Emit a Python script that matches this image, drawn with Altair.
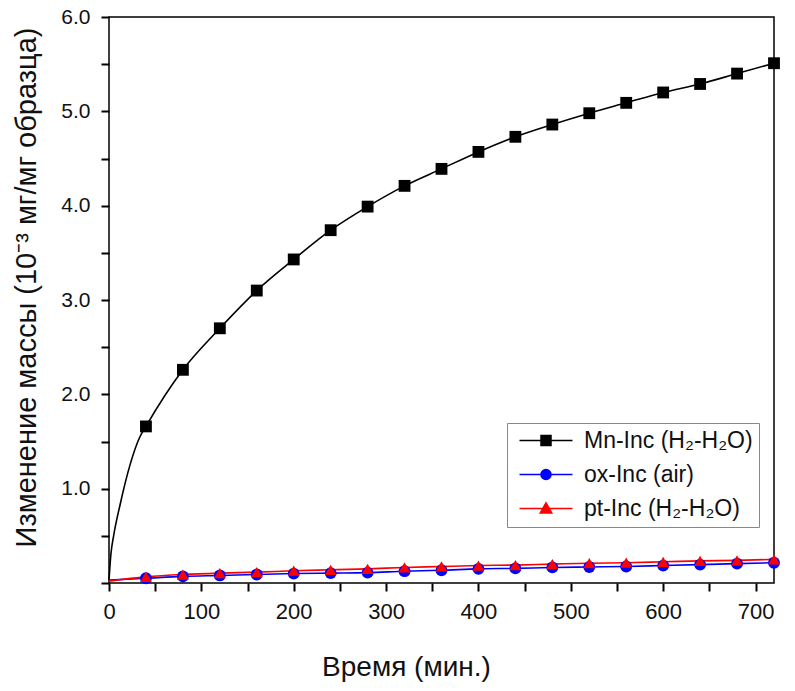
import altair as alt
import pandas as pd

series_names = ["Mn-Inc (H₂-H₂O)", "ox-Inc (air)", "pt-Inc (H₂-H₂O)"]
colors = ["#000000", "#0000FF", "#FF0000"]
std_shapes = ["square", "circle", "triangle-up"]

marker_t = [40, 80, 120, 160, 200, 240, 280, 320, 360, 400, 440, 480, 520, 560, 600, 640, 680, 720]
mn_marker = [1.66, 2.26, 2.70, 3.10, 3.43, 3.74, 3.99, 4.21, 4.39, 4.57, 4.73, 4.86, 4.98, 5.09, 5.20, 5.29, 5.40, 5.51]
ox_marker = [0.05, 0.07, 0.08, 0.09, 0.10, 0.105, 0.11, 0.125, 0.135, 0.15, 0.155, 0.165, 0.17, 0.175, 0.185, 0.195, 0.205, 0.215]
pt_marker = [0.065, 0.09, 0.105, 0.115, 0.13, 0.14, 0.15, 0.165, 0.175, 0.185, 0.19, 0.20, 0.21, 0.215, 0.225, 0.235, 0.24, 0.25]

mn_line_t = [0, 2, 5, 12, 23, 33] + marker_t
mn_line_v = [0.03, 0.30, 0.50, 0.83, 1.26, 1.54] + mn_marker
ox_line_t = [0] + marker_t
ox_line_v = [0.03] + ox_marker
pt_line_t = [0] + marker_t
pt_line_v = [0.02] + pt_marker

# major + minor tick positions (minor ones get no label)
x_ticks = [0, 50, 100, 150, 200, 250, 300, 350, 400, 450, 500, 550, 600, 650, 700]
y_ticks = [0, 0.5, 1, 1.5, 2, 2.5, 3, 3.5, 4, 4.5, 5, 5.5, 6]

# legend symbols: line segment + marker (unit coordinates)
legend_paths = [
    "M-1,0L9.6,0M3.3,-1L5.3,-1L5.3,1L3.3,1Z",
    "M-1,0L9.6,0M3.3,0A1,1 0 1,1 5.3,0A1,1 0 1,1 3.3,0Z",
    "M-1,0L9.6,0M4.3,-1.15L5.45,0.9L3.15,0.9Z",
]

rows = []
for name, ts, vs in [(series_names[0], mn_line_t, mn_line_v),
                     (series_names[1], ox_line_t, ox_line_v),
                     (series_names[2], pt_line_t, pt_line_v)]:
    for i, (t, v) in enumerate(zip(ts, vs)):
        rows.append({"series": name, "t": t, "v": v, "order": i})
lines_df = pd.DataFrame(rows)

rows = []
for k, (name, vs) in enumerate([(series_names[0], mn_marker),
                                (series_names[1], ox_marker),
                                (series_names[2], pt_marker)]):
    for t, v in zip(marker_t, vs):
        rows.append({"series": name, "t": t, "v": v, "k": k})
marks_df = pd.DataFrame(rows)

FONT = "Liberation Sans"
TICK = "#000000"
xscale = alt.Scale(domain=[0, 720], nice=False, zero=False)
yscale = alt.Scale(domain=[0, 6], nice=False)
cscale = alt.Scale(domain=series_names, range=colors)

x_axis = alt.Axis(values=x_ticks, orient="bottom", title="Время (мин.)", grid=False,
                  labelExpr="datum.value % 100 == 0 ? format(datum.value, 'd') : ''",
                  ticks=True, tickSize=8, tickColor=TICK, tickWidth=2, domain=False,
                  labelFlush=False, labelFont=FONT, labelFontSize=22, labelColor="#111",
                  labelPadding=10,
                  titleFont=FONT, titleFontSize=28, titleFontWeight="normal",
                  titleColor="#111", titlePadding=31, titleX=297)
y_axis = alt.Axis(values=y_ticks, orient="left",
                  title="Изменение массы (10⁻³ мг/мг образца)", grid=False,
                  labelExpr="(datum.value == 0 || datum.value % 1 != 0) ? '' : format(datum.value, '.1f')",
                  ticks=True, tickSize=8, tickColor=TICK, tickWidth=2, domain=False,
                  labelFlush=False, labelFont=FONT, labelFontSize=21, labelColor="#111",
                  labelPadding=11,
                  titleFont=FONT, titleFontSize=29, titleFontWeight="normal",
                  titleColor="#111", titlePadding=19, titleY=270)

line_layer = alt.Chart(lines_df).mark_line(strokeWidth=1.6, interpolate="monotone").encode(
    x=alt.X("t:Q", scale=xscale, axis=x_axis),
    y=alt.Y("v:Q", scale=yscale, axis=y_axis),
    color=alt.Color("series:N", scale=cscale, legend=None, sort=series_names),
    order="order:Q",
)

point_layer = alt.Chart(marks_df).mark_point(filled=True, opacity=1, size=140).encode(
    x=alt.X("t:Q", scale=xscale, axis=x_axis),
    y=alt.Y("v:Q", scale=yscale, axis=y_axis),
    color=alt.Color("series:N", scale=cscale, legend=None, sort=series_names),
    shape=alt.Shape("series:N", scale=alt.Scale(domain=series_names, range=std_shapes), legend=None),
    order="k:Q",
)

leg = dict(orient="none", legendX=398, legendY=406, title=None,
           labelFont=FONT, labelFontSize=23, labelColor="#111", labelOffset=48, labelLimit=400,
           symbolSize=100, symbolStrokeWidth=1.5, symbolOpacity=1,
           strokeColor="#888888", fillColor="white", padding=6, rowPadding=10,
           cornerRadius=0)

legend_layer = alt.Chart(marks_df).mark_point(filled=True, opacity=0).encode(
    x=alt.X("t:Q", scale=xscale, axis=x_axis),
    y=alt.Y("v:Q", scale=yscale, axis=y_axis),
    fill=alt.Fill("series:N", scale=alt.Scale(domain=series_names, range=colors), legend=alt.Legend(**leg)),
    stroke=alt.Stroke("series:N", scale=alt.Scale(domain=series_names, range=colors), legend=alt.Legend(**leg)),
    shape=alt.Shape("series:N", scale=alt.Scale(domain=series_names, range=legend_paths), legend=alt.Legend(**leg)),
)

chart = alt.layer(line_layer, point_layer, legend_layer).resolve_scale(
    color="independent", shape="independent", fill="independent", stroke="independent"
).properties(
    width=665, height=566, autosize="none",
    padding={"left": 101, "top": 9, "right": 13, "bottom": 100},
    background="white",
).configure_view(stroke="black", strokeWidth=1.5)

chart.save("out.html", embed_options={"renderer": "svg", "actions": False})
